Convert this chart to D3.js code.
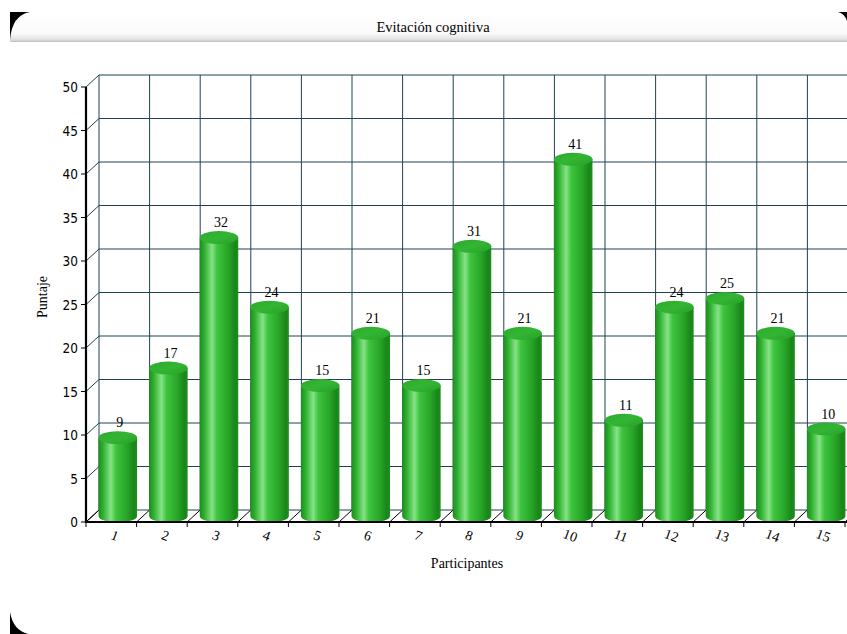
<!DOCTYPE html>
<html><head><meta charset="utf-8">
<script src="https://cdn.jsdelivr.net/npm/d3@7"></script>
<style>html,body{margin:0;padding:0;background:#fff;overflow:hidden}</style>
</head><body>
<script>
const participants = ["1","2","3","4","5","6","7","8","9","10","11","12","13","14","15"];
const scores = [9,17,32,24,15,21,15,31,21,41,11,24,25,21,10];
const yTicks = [0,5,10,15,20,25,30,35,40,45,50];
const chartTitle = "Evitación cognitiva";
const xTitle = "Participantes";
const yTitle = "Puntaje";

const W = 847, H = 634;
const svg = d3.select("body").append("svg").attr("width", W).attr("height", H);
const defs = svg.append("defs");

// header gradient
const hg = defs.append("linearGradient").attr("id","hdr").attr("x1",0).attr("y1",0).attr("x2",0).attr("y2",1);
hg.append("stop").attr("offset","0%").attr("stop-color","#ffffff");
hg.append("stop").attr("offset","70%").attr("stop-color","#fafafa");
hg.append("stop").attr("offset","88%").attr("stop-color","#e6e6e6");
hg.append("stop").attr("offset","100%").attr("stop-color","#c8c8c8");
svg.append("path")
  .attr("d","M10,42 L10,38 Q12,14 30,13 L838,13 Q846,16 847,24 L847,42 Z")
  .attr("fill","url(#hdr)");
svg.append("line").attr("x1",12).attr("x2",847).attr("y1",41.5).attr("y2",41.5).attr("stroke","#c4c4c4").attr("stroke-width",1);

// black frame corners
svg.append("path").attr("d","M10,12 L30,12 Q12,15 10,40 Z").attr("fill","#000");
svg.append("path").attr("d","M838,12 L847,12 L847,21 Q845,14 838,12 Z").attr("fill","#000");
svg.append("path").attr("d","M10,612 Q13,630 28,634 L10,634 Z").attr("fill","#000");

svg.append("text").attr("x",433).attr("y",32).attr("text-anchor","middle")
  .attr("font-family","Liberation Serif, serif").attr("font-size",14.5).attr("fill","#000")
  .text(chartTitle);

// scales
const x0 = 86, bw = 50.6;
const x = d3.scaleBand().domain(participants).range([x0, x0 + bw*participants.length]).padding(0);
const y = d3.scaleLinear().domain([0,50]).range([522, 87]);
const DX = 13, DY = -12;
const gridC = "#1f4257";

const g = svg.append("g");
yTicks.forEach(t=>{
  g.append("line").attr("x1",x0+DX).attr("x2",W).attr("y1",y(t)+DY).attr("y2",y(t)+DY)
   .attr("stroke",gridC).attr("stroke-width",1);
  g.append("line").attr("x1",x0).attr("y1",y(t)).attr("x2",x0+DX).attr("y2",y(t)+DY)
   .attr("stroke",t===0?"#000":gridC).attr("stroke-width",1);
});
const xEdges = participants.map(p=>x(p)).concat([x(participants[participants.length-1])+x.bandwidth()]);
xEdges.forEach(e=>{
  g.append("line").attr("x1",e+DX).attr("x2",e+DX).attr("y1",y(50)+DY).attr("y2",y(0)+DY)
   .attr("stroke",gridC).attr("stroke-width",1);
  g.append("line").attr("x1",e).attr("y1",y(0)).attr("x2",e+DX).attr("y2",y(0)+DY)
   .attr("stroke","#000").attr("stroke-width",1);
});

// cylinder gradients
const cg = defs.append("linearGradient").attr("id","cyl").attr("x1",0).attr("y1",0).attr("x2",1).attr("y2",0);
[["0%","#1e8c1e"],["12%","#2eb02e"],["32%","#86e386"],["45%","#3ec43e"],["75%","#26a326"],["92%","#1a851a"],["100%","#1d8f1d"]]
 .forEach(s=>cg.append("stop").attr("offset",s[0]).attr("stop-color",s[1]));
const tg = defs.append("linearGradient").attr("id","top").attr("x1",0).attr("y1",0).attr("x2",1).attr("y2",1);
[["0%","#2da82d"],["50%","#33b533"],["100%","#27a027"]].forEach(s=>tg.append("stop").attr("offset",s[0]).attr("stop-color",s[1]));

const barW = 38.5, ry = 6.5;
const bars = svg.append("g");
participants.forEach((p,i)=>{
  const v = scores[i];
  const cx = x(p) + x.bandwidth()/2 + DX/2;
  const yb = y(0) + DY/2, yt = y(v) + DY/2;
  const l = cx - barW/2;
  bars.append("path")
    .attr("d",`M${l},${yt} L${l},${yb} A${barW/2},${ry} 0 0 0 ${l+barW},${yb} L${l+barW},${yt} Z`)
    .attr("fill","url(#cyl)");
  bars.append("ellipse").attr("cx",cx).attr("cy",yt).attr("rx",barW/2).attr("ry",ry)
    .attr("fill","url(#top)");
  bars.append("text").attr("x",cx+2).attr("y",yt-ry-4).attr("text-anchor","middle")
    .attr("font-family","Liberation Serif, serif").attr("font-size",14).attr("fill","#000")
    .text(v);
});

// axes (front)
svg.append("line").attr("x1",x0).attr("x2",x0).attr("y1",y(50)).attr("y2",y(0)+1)
  .attr("stroke","#000").attr("stroke-width",2.2);
svg.append("line").attr("x1",x0).attr("x2",W).attr("y1",y(0)).attr("y2",y(0))
  .attr("stroke","#000").attr("stroke-width",2.2);
yTicks.forEach(t=>{
  svg.append("line").attr("x1",x0-5).attr("x2",x0).attr("y1",y(t)).attr("y2",y(t)).attr("stroke","#000");
  svg.append("text").attr("x",x0-8).attr("y",y(t)+5).attr("text-anchor","end")
    .attr("font-family","DejaVu Sans Condensed, DejaVu Sans, sans-serif").attr("font-size",13.5).attr("fill","#000")
    .text(t);
});
xEdges.forEach(e=>{
  svg.append("line").attr("x1",e).attr("x2",e).attr("y1",y(0)).attr("y2",y(0)+5).attr("stroke","#000");
});
participants.forEach(p=>{
  const cx = x(p) + x.bandwidth()/2 + 2;
  svg.append("text").attr("transform",`translate(${cx},${y(0)+18}) rotate(20)`)
    .attr("text-anchor","middle")
    .attr("font-family","Liberation Serif, serif").attr("font-size",14).attr("fill","#000")
    .text(p);
});

svg.append("text").attr("x",467).attr("y",568).attr("text-anchor","middle")
  .attr("font-family","Liberation Serif, serif").attr("font-size",14).attr("fill","#000").text(xTitle);
svg.append("text").attr("transform","translate(47,297) rotate(-90)").attr("text-anchor","middle")
  .attr("font-family","Liberation Serif, serif").attr("font-size",14).attr("fill","#000").text(yTitle);
</script>
</body></html>
